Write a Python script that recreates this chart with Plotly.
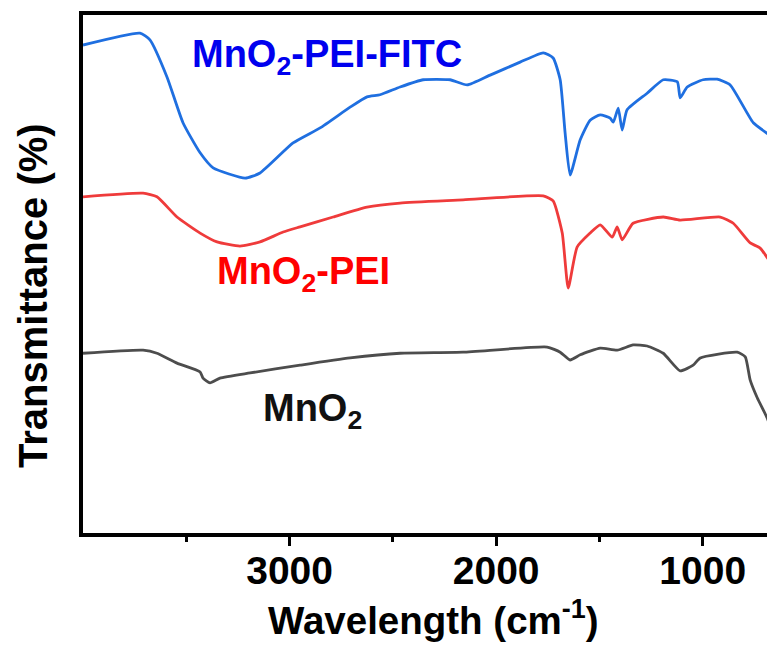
import plotly.graph_objects as go

# Wavenumber (cm-1) and transmittance (arbitrary, offset) for each spectrum
wn_fitc = [4000, 3724, 3676, 3593, 3516, 3433, 3370, 3215, 3143, 2983, 2852, 2707, 2625,
           2562, 2465, 2353, 2223, 2140, 2029, 1884, 1772, 1724, 1690, 1666, 1642, 1593,
           1545, 1496, 1448, 1433, 1409, 1390, 1366, 1269, 1191, 1123, 1109, 1075, 998,
           930, 867, 755, 663, 650]
t_fitc = [94.2, 96.5, 95.2, 88.0, 79.2, 73.4, 70.5, 68.5, 69.5, 75.3, 78.2, 82.2, 84.2,
          84.6, 86.1, 87.5, 87.5, 86.5, 88.4, 90.9, 92.7, 91.7, 87.5, 77.2, 69.1, 75.9,
          79.7, 80.7, 80.1, 79.3, 82.0, 77.8, 81.7, 84.9, 87.5, 87.1, 84.0, 86.1, 87.5,
          87.6, 86.5, 79.2, 76.4, 75.6]

wn_pei = [4000, 3709, 3642, 3545, 3433, 3351, 3240, 3143, 3031, 2949, 2789, 2625, 2465,
          2160, 1772, 1724, 1680, 1651, 1608, 1545, 1496, 1438, 1414, 1390, 1337, 1191,
          1109, 915, 852, 770, 722, 659, 650]
t_pei = [64.9, 65.6, 64.9, 61.0, 57.9, 56.2, 55.4, 56.2, 58.1, 59.1, 61.0, 62.9, 63.7,
         64.3, 65.1, 64.1, 57.9, 47.3, 55.2, 57.9, 59.5, 57.1, 59.1, 56.6, 59.8, 61.0,
         60.4, 61.0, 59.8, 56.0, 55.0, 51.4, 50.4]

wn_mno2 = [4000, 3709, 3642, 3545, 3433, 3419, 3385, 3337, 3191, 2949, 2707, 2465, 2160,
           1753, 1690, 1642, 1593, 1496, 1414, 1337, 1269, 1191, 1109, 1046, 1012, 833,
           794, 770, 736, 688, 650]
t_mno2 = [34.7, 35.3, 34.7, 32.8, 31.1, 29.9, 29.0, 29.9, 30.9, 32.4, 33.8, 34.7, 34.9,
          35.9, 34.9, 33.4, 34.4, 35.7, 35.3, 36.3, 36.1, 34.7, 31.3, 32.4, 33.8, 34.9,
          34.0, 29.5, 26.1, 22.2, 18.0]

x_ticks = [3000, 2000, 1000]
x_tick_labels = ["3000", "2000", "1000"]
x_minor_ticks = [3500, 2500, 1500]

FONT = "Liberation Sans, Arial, sans-serif"

fig = go.Figure()
for xs, ys, col in [(wn_mno2, t_mno2, "#4d4d4d"),
                    (wn_pei, t_pei, "#ef3b3b"),
                    (wn_fitc, t_fitc, "#1f6fe0")]:
    fig.add_trace(go.Scatter(x=xs, y=ys, mode="lines",
                             line=dict(color=col, width=2.8, shape="spline", smoothing=0.5),
                             showlegend=False))

labels = [
    ("MnO<sub>2</sub>-PEI-FITC", 0.154, 0.868, "#0000ee"),
    ("MnO<sub>2</sub>-PEI", 0.191, 0.450, "#ff0000"),
    ("MnO<sub>2</sub>", 0.257, 0.185, "#111111"),
]
for txt, px, py, col in labels:
    fig.add_annotation(text=txt, xref="paper", yref="paper", x=px, y=py,
                       xanchor="left", yanchor="bottom", showarrow=False,
                       font=dict(family=FONT, size=38, color=col, weight="bold"))

fig.add_annotation(text="Transmittance (%)", xref="paper", yref="paper",
                   x=-0.0723, y=0.4595, xanchor="center", yanchor="middle",
                   textangle=-90, showarrow=False,
                   font=dict(family=FONT, size=40, color="black", weight="bold"))
fig.add_annotation(text="Wavelength (cm<sup>-1</sup>)", xref="paper", yref="paper",
                   x=0.506, y=-0.164, xanchor="center", yanchor="middle",
                   showarrow=False,
                   font=dict(family=FONT, size=38.5, color="black", weight="bold"))

# page body has an 8px margin, so the figure is offset accordingly
fig.update_layout(
    width=767, height=642,
    margin=dict(l=75, r=0, t=7, b=117),
    paper_bgcolor="white", plot_bgcolor="white",
    font=dict(family=FONT, color="black"),
)
fig.update_xaxes(
    range=[4000, 650], autorange=False,
    showline=True, linecolor="black", linewidth=3.5, mirror=True,
    showgrid=False, zeroline=False,
    ticks="outside", ticklen=9, tickwidth=2.5, tickcolor="black",
    tickvals=x_ticks, ticktext=x_tick_labels, ticklabelstandoff=-9,
    tickfont=dict(family=FONT, size=39, color="black", weight="bold"),
    minor=dict(ticks="outside", ticklen=5, tickwidth=2.5, tickcolor="black",
               tickvals=x_minor_ticks, showgrid=False),
)
fig.update_yaxes(
    range=[0, 100], autorange=False,
    showline=True, linecolor="black", linewidth=3.5, mirror=False,
    showgrid=False, zeroline=False, showticklabels=False, ticks="",
)

fig.write_html("out.html")
